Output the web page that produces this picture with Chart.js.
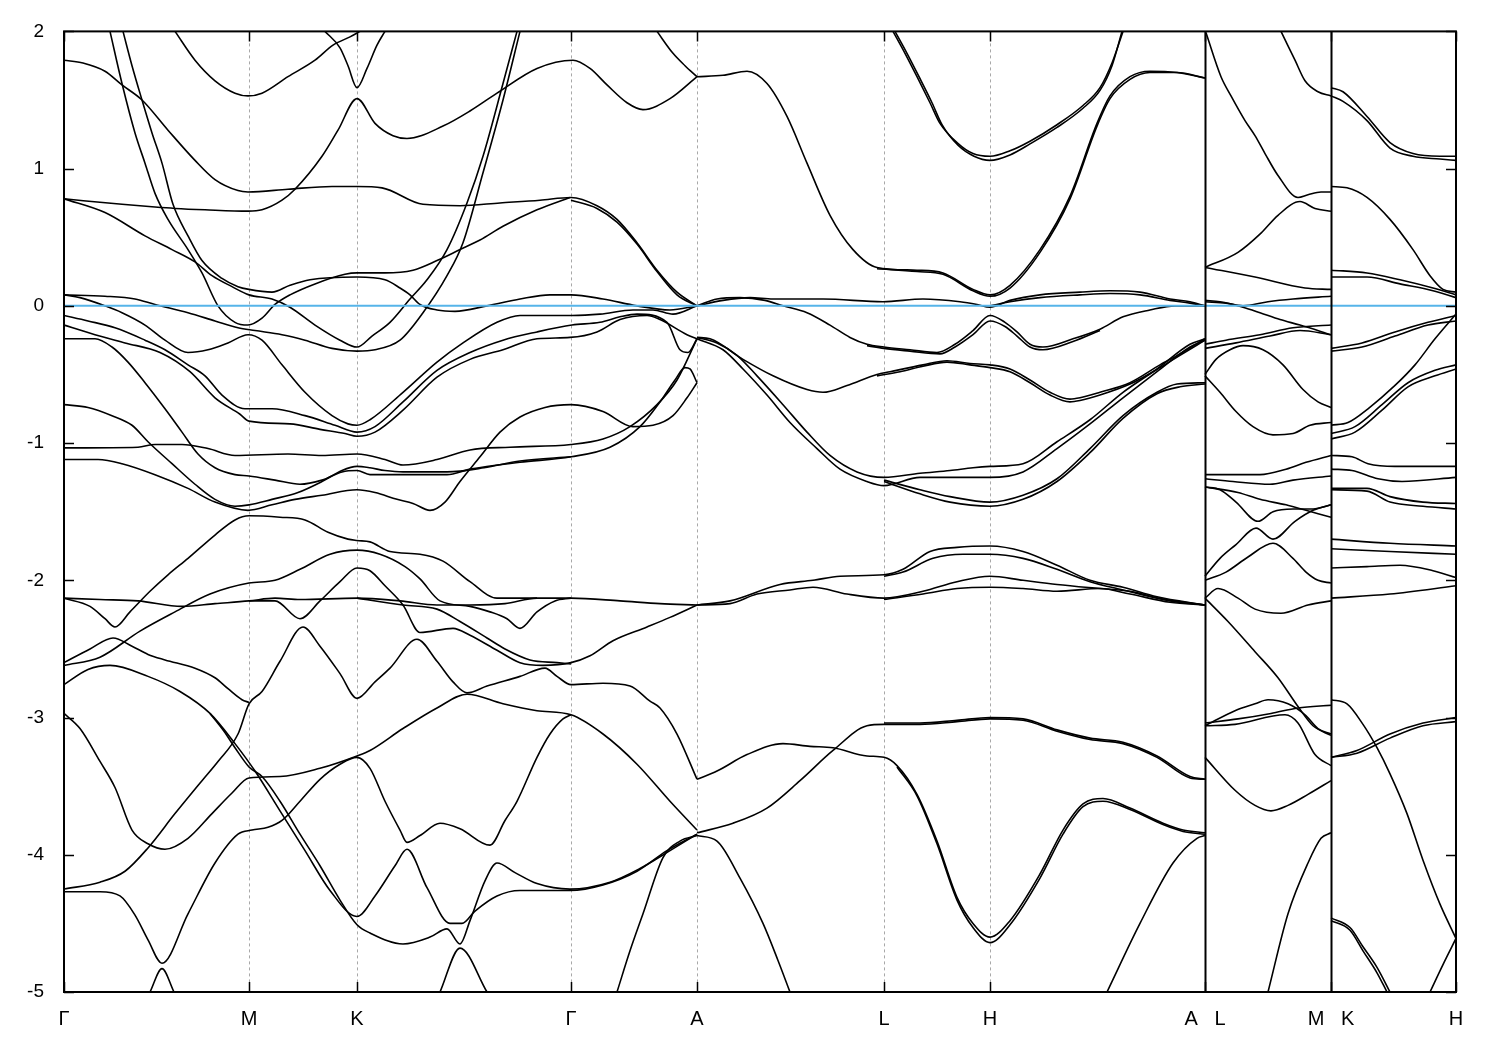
<!DOCTYPE html>
<html><head><meta charset="utf-8">
<script src="https://cdn.jsdelivr.net/npm/chart.js@4.4.1/dist/chart.umd.min.js"></script>
<style>html,body{margin:0;padding:0;background:#fff}canvas{display:block}</style>
</head><body>
<canvas id="c" width="1500" height="1050"></canvas>
<script>
// high-symmetry path positions (k, arb. units) and labels
const kPoints = [0, 185, 293, 507, 633, 820, 926, 1141, 1267, 1392];
const kLabels = ['Γ', 'M', 'K', 'Γ', 'A', 'L', 'H', 'A   L', 'M   K', 'H'];
const kBreaks = [1141, 1267];
const yTicks = [-5, -4, -3, -2, -1, 0, 1, 2];
const fermi = [[0, 0], [1392, 0]];

// bands: [k, E (eV)]
const b01=[[46,2.0],[58,1.62],[71,1.26],[81,1.04],[91,0.82],[104,0.63],[124,0.41],[138,0.24],[154,0.0],[171,-0.12],[184,-0.14],[198,-0.09],[211,0.01],[226,0.08],[251,0.16],[281,0.23],[293,0.24],[321,0.24],[349,0.26],[373,0.33],[396,0.41],[416,0.48],[439,0.58],[473,0.70],[506,0.79]];
const b02=[[59,2.0],[68,1.75],[78,1.50],[88,1.26],[98,1.04],[109,0.74],[124,0.51],[138,0.33],[158,0.20],[174,0.14],[185,0.12],[208,0.10],[226,0.15],[246,0.19],[293,0.21],[321,0.19],[336,0.13],[346,0.08],[356,0.01],[373,-0.03],[391,-0.04],[423,0.0],[456,0.05],[486,0.08],[507,0.08],[539,0.05],[573,0.0],[606,-0.03],[633,0.0]];
const b03=[[0,0.78],[41,0.68],[81,0.51],[108,0.41],[131,0.32],[148,0.22],[168,0.14],[185,0.08],[208,0.05],[226,-0.01],[251,-0.14],[276,-0.25],[293,-0.30],[308,-0.22],[326,-0.12],[346,0.05],[363,0.19],[383,0.41],[403,0.75],[419,1.09],[439,1.62],[453,2.0]];
const b04=[[0,0.78],[58,0.74],[91,0.72],[111,0.71],[141,0.70],[184,0.69],[198,0.70],[218,0.77],[231,0.85],[258,1.09],[274,1.28],[293,1.51],[311,1.33],[329,1.24],[343,1.22],[379,1.31],[406,1.42],[433,1.55],[473,1.73],[509,1.79],[526,1.73],[543,1.61],[563,1.48],[579,1.43],[606,1.51],[633,1.67]];
const b05=[[0,1.79],[19,1.77],[41,1.71],[58,1.61],[78,1.50],[104,1.28],[131,1.06],[151,0.92],[174,0.84],[184,0.83],[224,0.85],[268,0.87],[293,0.87],[318,0.86],[359,0.74],[396,0.73],[436,0.75],[476,0.77],[507,0.79],[533,0.73],[553,0.63],[573,0.46],[593,0.26],[613,0.10],[633,0.0]];
const b06=[[507,0.77],[533,0.71],[553,0.61],[573,0.45],[593,0.25],[613,0.08],[633,0.0]];
const b07=[[111,2.0],[131,1.79],[151,1.64],[171,1.55],[184,1.53],[198,1.55],[224,1.67],[251,1.79],[269,1.90],[286,1.96],[296,2.0]];
const b08=[[261,2.0],[276,1.88],[284,1.75],[293,1.59],[303,1.73],[313,1.90],[321,2.0]];
const b09=[[0,0.08],[41,0.07],[71,0.05],[91,0.01],[124,-0.05],[151,-0.11],[174,-0.16],[191,-0.18],[218,-0.21],[241,-0.25],[268,-0.31],[293,-0.33],[311,-0.32],[336,-0.25],[359,-0.05],[383,0.22],[399,0.46],[419,0.97],[439,1.50],[456,2.0]];
const b10=[[0,0.08],[16,0.06],[41,0.0],[58,-0.05],[81,-0.14],[101,-0.25],[124,-0.34],[144,-0.32],[164,-0.27],[184,-0.21],[198,-0.25],[218,-0.43],[241,-0.63],[268,-0.80],[284,-0.86],[293,-0.87],[306,-0.83],[339,-0.63],[373,-0.41],[399,-0.27],[433,-0.12],[456,-0.07],[489,-0.07],[508,-0.07],[536,-0.06],[569,-0.03],[589,-0.03],[609,-0.06],[633,0.0]];
const b11=[[0,-0.07],[24,-0.11],[51,-0.16],[81,-0.25],[101,-0.32],[124,-0.43],[141,-0.51],[158,-0.65],[181,-0.75],[208,-0.75],[241,-0.80],[271,-0.87],[293,-0.92],[311,-0.88],[339,-0.70],[373,-0.47],[406,-0.34],[439,-0.25],[473,-0.19],[508,-0.14],[536,-0.12],[556,-0.08],[573,-0.06],[603,-0.12],[616,-0.32],[624,-0.34],[633,-0.24]];
const b12=[[0,-0.14],[31,-0.21],[61,-0.27],[96,-0.34],[126,-0.48],[151,-0.67],[176,-0.79],[185,-0.84],[226,-0.86],[256,-0.90],[281,-0.93],[293,-0.95],[311,-0.92],[339,-0.76],[373,-0.52],[406,-0.39],[439,-0.32],[473,-0.24],[506,-0.23],[533,-0.19],[556,-0.10],[583,-0.07],[596,-0.10],[623,-0.21],[633,-0.24]];
const b13=[[0,-0.24],[31,-0.24],[48,-0.30],[64,-0.41],[81,-0.56],[101,-0.75],[118,-0.92],[134,-1.08],[151,-1.18],[171,-1.23],[185,-1.24],[211,-1.27],[236,-1.30],[258,-1.27],[278,-1.21],[293,-1.20],[306,-1.23],[339,-1.23],[383,-1.23],[406,-1.19],[456,-1.14],[507,-1.10],[546,-1.03],[576,-0.88],[596,-0.70],[611,-0.54],[621,-0.45],[626,-0.46],[633,-0.56]];
const b14=[[0,-1.035],[74,-1.03],[91,-1.01],[118,-1.01],[144,-1.04],[171,-1.09],[224,-1.08],[258,-1.09],[293,-1.08],[321,-1.12],[339,-1.16],[373,-1.12],[406,-1.05],[446,-1.03],[507,-1.01],[539,-0.97],[566,-0.88],[593,-0.72],[613,-0.54],[633,-0.24]];
const b15=[[0,-1.12],[34,-1.12],[58,-1.15],[91,-1.23],[124,-1.33],[151,-1.43],[184,-1.49],[208,-1.45],[231,-1.41],[258,-1.38],[293,-1.34],[311,-1.36],[333,-1.41],[349,-1.44],[366,-1.49],[381,-1.43],[396,-1.28],[416,-1.10],[436,-0.92],[456,-0.81],[481,-0.74],[507,-0.72],[539,-0.77],[569,-0.88],[589,-0.87],[609,-0.80],[623,-0.67],[633,-0.56]];
const b16=[[0,-0.72],[24,-0.74],[48,-0.80],[68,-0.87],[84,-0.99],[108,-1.15],[131,-1.30],[151,-1.41],[171,-1.46],[185,-1.45],[208,-1.41],[234,-1.36],[258,-1.28],[278,-1.20],[293,-1.17],[306,-1.18],[321,-1.20],[339,-1.21],[383,-1.21],[420,-1.18],[456,-1.13],[507,-1.10]];
const b17=[[0,-2.13],[36,-2.14],[74,-2.15],[118,-2.19],[151,-2.17],[185,-2.15],[211,-2.13],[236,-2.14],[293,-2.13],[336,-2.15],[373,-2.18],[406,-2.18],[441,-2.17],[473,-2.13],[507,-2.13],[556,-2.15],[596,-2.17],[633,-2.18]];
const b18=[[0,-2.13],[26,-2.19],[41,-2.28],[51,-2.34],[66,-2.23],[86,-2.08],[104,-1.96],[124,-1.84],[151,-1.67],[171,-1.56],[185,-1.53],[216,-1.54],[241,-1.56],[264,-1.65],[284,-1.70],[293,-1.71],[306,-1.72],[326,-1.79],[356,-1.81],[379,-1.86],[406,-2.01],[433,-2.13],[473,-2.13]];
const b19=[[0,-2.62],[36,-2.56],[76,-2.37],[111,-2.23],[146,-2.10],[185,-2.02],[211,-2.00],[236,-1.92],[266,-1.81],[293,-1.78],[316,-1.81],[341,-1.90],[356,-1.99],[376,-2.15],[406,-2.19],[426,-2.23],[443,-2.28],[456,-2.35],[473,-2.23],[491,-2.15],[507,-2.13]];
const b20=[[0,-2.76],[24,-2.65],[46,-2.62],[84,-2.70],[116,-2.81],[146,-2.97],[171,-3.19],[191,-3.39],[216,-3.68],[241,-3.97],[266,-4.26],[293,-4.45],[311,-4.30],[331,-4.08],[343,-3.96],[363,-4.24],[386,-4.50],[398,-4.50],[411,-4.41],[433,-4.30],[456,-4.26],[506,-4.26],[539,-4.22],[573,-4.12],[603,-3.97],[633,-3.85]];
const b21=[[0,-2.97],[16,-3.08],[36,-3.32],[51,-3.51],[68,-3.82],[84,-3.92],[101,-3.96],[124,-3.88],[148,-3.70],[168,-3.55],[185,-3.44],[216,-3.43],[256,-3.37],[293,-3.28],[306,-3.24],[339,-3.08],[373,-2.93],[403,-2.83],[439,-2.90],[473,-2.95],[507,-2.98],[539,-3.12],[573,-3.34],[606,-3.61],[633,-3.82]];
const b22=[[0,-4.25],[36,-4.20],[61,-4.12],[84,-3.95],[111,-3.70],[138,-3.46],[154,-3.32],[174,-3.12],[185,-2.90],[198,-2.81],[216,-2.59],[239,-2.34],[256,-2.48],[276,-2.68],[293,-2.86],[311,-2.74],[326,-2.64],[353,-2.43],[373,-2.59],[389,-2.74],[403,-2.82],[423,-2.77],[456,-2.70],[481,-2.64],[493,-2.70],[507,-2.76],[539,-2.75],[566,-2.77],[586,-2.88],[596,-2.93],[613,-3.12],[633,-3.45]];
const b23=[[0,-2.60],[26,-2.50],[49,-2.42],[68,-2.48],[84,-2.54],[101,-2.58],[131,-2.64],[151,-2.71],[164,-2.79],[178,-2.87],[185,-2.89]];
const b25=[[146,-2.97],[160,-3.10],[171,-3.22],[185,-3.36],[198,-3.43],[216,-3.61],[236,-3.85],[256,-4.08],[276,-4.33],[293,-4.51],[306,-4.57],[339,-4.65],[366,-4.60],[383,-4.54],[396,-4.65],[406,-4.48],[421,-4.19],[433,-4.06],[451,-4.13],[473,-4.21],[506,-4.25],[546,-4.20],[576,-4.10],[606,-3.97],[633,-3.85]];
const b26=[[0,-4.27],[36,-4.27],[56,-4.30],[71,-4.44],[84,-4.62],[98,-4.79],[124,-4.43],[151,-4.06],[174,-3.85],[188,-3.82],[204,-3.80],[218,-3.75],[236,-3.61],[256,-3.45],[276,-3.34],[293,-3.29],[306,-3.37],[321,-3.61],[336,-3.82],[343,-3.91],[356,-3.86],[376,-3.77],[396,-3.81],[426,-3.93],[441,-3.75],[453,-3.61],[473,-3.29],[486,-3.12],[499,-3.01],[507,-2.98]];
const b27=[[86,-5.0],[98,-4.83],[110,-5.0]];
const b28=[[376,-5.0],[396,-4.68],[423,-5.0]];
const b29=[[633,1.67],[659,1.68],[683,1.71],[703,1.62],[723,1.38],[743,1.04],[766,0.66],[789,0.41],[813,0.28],[853,0.26],[879,0.24],[909,0.12],[926,0.08],[946,0.15],[976,0.41],[1006,0.80],[1033,1.33],[1046,1.53],[1066,1.67],[1086,1.71],[1113,1.70],[1141,1.66]];
const b29b=[[813,0.27],[853,0.25],[879,0.23],[909,0.11],[926,0.07],[946,0.13],[976,0.39],[1006,0.78],[1033,1.31],[1046,1.51],[1066,1.65],[1086,1.70],[1113,1.70],[1141,1.66]];
const b30=[[829,2.0],[841,1.84],[853,1.67],[866,1.48],[876,1.33],[893,1.19],[909,1.11],[926,1.09],[946,1.13],[966,1.20],[993,1.32],[1019,1.46],[1036,1.59],[1048,1.77],[1059,2.0]];
const b31=[[831,2.0],[843,1.84],[855,1.67],[868,1.48],[878,1.32],[894,1.17],[910,1.09],[926,1.06],[946,1.10],[966,1.18],[993,1.30],[1019,1.44],[1036,1.57],[1048,1.75],[1058,2.0]];
const b32=[[633,0.0],[659,0.04],[686,0.06],[709,0.05],[759,0.05],[819,0.03],[859,0.05],[896,0.03],[913,0.01],[926,-0.01],[946,0.04],[976,0.08],[1016,0.10],[1046,0.11],[1076,0.10],[1106,0.05],[1126,0.03],[1141,0.0]];
const b32b=[[926,0.0],[946,0.03],[976,0.06],[1016,0.08],[1046,0.09],[1076,0.08],[1106,0.04],[1126,0.02],[1141,0.0]];
const b33=[[633,0.0],[653,0.05],[676,0.06],[701,0.04],[719,0.0],[743,-0.05],[766,-0.14],[786,-0.23],[803,-0.28],[820,-0.30],[846,-0.32],[873,-0.34],[891,-0.28],[909,-0.18],[926,-0.07],[941,-0.12],[953,-0.19],[966,-0.28],[979,-0.30],[1009,-0.24],[1036,-0.17],[1059,-0.08],[1086,-0.03],[1111,0.0],[1141,0.0]];
const b34=[[803,-0.29],[820,-0.31],[846,-0.33],[876,-0.35],[891,-0.30],[909,-0.21],[926,-0.11],[941,-0.15],[953,-0.22],[966,-0.30],[979,-0.32],[1009,-0.26],[1036,-0.18]];
const b35=[[633,-0.23],[646,-0.24],[679,-0.39],[709,-0.51],[743,-0.61],[759,-0.63],[783,-0.58],[813,-0.50],[826,-0.48],[859,-0.43],[883,-0.40],[906,-0.42],[926,-0.43],[946,-0.46],[966,-0.54],[986,-0.63],[1006,-0.68],[1016,-0.67],[1036,-0.63],[1066,-0.56],[1096,-0.43],[1116,-0.35],[1141,-0.24]];
const b35b=[[813,-0.51],[836,-0.48],[859,-0.44],[883,-0.41],[906,-0.43],[926,-0.45],[946,-0.48],[966,-0.56],[986,-0.65],[1006,-0.70],[1016,-0.69],[1036,-0.65],[1066,-0.57],[1096,-0.45],[1116,-0.36],[1141,-0.25]];
const b36=[[633,-0.23],[653,-0.27],[673,-0.36],[693,-0.51],[719,-0.72],[743,-0.92],[766,-1.09],[793,-1.21],[820,-1.25],[856,-1.22],[886,-1.20],[909,-1.18],[926,-1.17],[959,-1.15],[993,-0.99],[1026,-0.83],[1059,-0.63],[1093,-0.46],[1126,-0.28],[1141,-0.24]];
const b37=[[633,-0.24],[659,-0.32],[679,-0.46],[703,-0.65],[726,-0.85],[753,-1.04],[776,-1.19],[803,-1.28],[820,-1.31],[856,-1.25],[886,-1.25],[926,-1.25],[959,-1.21],[993,-1.04],[1026,-0.86],[1059,-0.67],[1093,-0.48],[1126,-0.30],[1141,-0.25]];
const b38=[[820,-1.27],[856,-1.34],[886,-1.39],[926,-1.43],[959,-1.38],[993,-1.26],[1026,-1.04],[1059,-0.80],[1093,-0.63],[1113,-0.57],[1141,-0.56]];
const b39=[[820,-1.28],[856,-1.37],[886,-1.43],[926,-1.46],[959,-1.41],[993,-1.28],[1026,-1.07],[1059,-0.82],[1093,-0.64],[1116,-0.59],[1141,-0.57]];
const b40=[[633,-2.18],[666,-2.15],[716,-2.03],[749,-2.00],[776,-1.97],[820,-1.96],[839,-1.92],[866,-1.79],[893,-1.76],[926,-1.75],[959,-1.79],[993,-1.89],[1026,-2.00],[1059,-2.05],[1093,-2.12],[1141,-2.18]];
const b41=[[820,-1.97],[839,-1.94],[869,-1.84],[899,-1.81],[926,-1.81],[959,-1.84],[993,-1.92],[1026,-2.01],[1059,-2.07],[1093,-2.13],[1141,-2.18]];
const b42=[[633,-2.18],[666,-2.17],[693,-2.10],[726,-2.07],[749,-2.05],[783,-2.10],[820,-2.13],[859,-2.08],[893,-2.01],[926,-1.97],[959,-2.00],[993,-2.03],[1036,-2.06],[1066,-2.08],[1106,-2.15],[1141,-2.18]];
const b43=[[820,-2.14],[859,-2.10],[893,-2.06],[926,-2.05],[959,-2.06],[993,-2.08],[1036,-2.06],[1066,-2.10],[1106,-2.16],[1141,-2.18]];
const b44=[[633,-3.45],[653,-3.39],[683,-3.27],[719,-3.19],[746,-3.21],[769,-3.22],[803,-3.28],[820,-3.29],[833,-3.35],[853,-3.56],[873,-3.90],[893,-4.31],[909,-4.50],[926,-4.60],[946,-4.48],[976,-4.14],[999,-3.82],[1019,-3.63],[1039,-3.59],[1066,-3.66],[1099,-3.77],[1119,-3.82],[1141,-3.84]];
const b45=[[833,-3.36],[853,-3.57],[873,-3.92],[893,-4.33],[909,-4.53],[926,-4.64],[946,-4.51],[976,-4.17],[999,-3.85],[1019,-3.65],[1039,-3.61],[1066,-3.67],[1099,-3.78],[1119,-3.83],[1141,-3.85]];
const b46=[[633,-3.84],[669,-3.77],[703,-3.66],[736,-3.46],[769,-3.24],[803,-3.06],[820,-3.05],[856,-3.05],[893,-3.03],[926,-3.01],[959,-3.02],[993,-3.10],[1026,-3.16],[1059,-3.19],[1093,-3.29],[1126,-3.44],[1141,-3.45]];
const b46b=[[820,-3.04],[856,-3.04],[893,-3.02],[926,-3.00],[959,-3.01],[993,-3.09],[1026,-3.15],[1059,-3.18],[1093,-3.28],[1126,-3.43],[1141,-3.45]];
const b47=[[633,-3.86],[653,-3.90],[676,-4.17],[699,-4.50],[714,-4.77],[726,-5.0]];
const b48=[[1043,-5.0],[1076,-4.50],[1109,-4.06],[1133,-3.88],[1141,-3.86]];
const b49=[[553,-5.0],[566,-4.70],[579,-4.43],[599,-4.02],[616,-3.90],[633,-3.86]];
const b50=[[593,2.0],[609,1.84],[621,1.75],[633,1.67]];
const b51=[[1142,1.99],[1157,1.67],[1167,1.53],[1181,1.35],[1191,1.24],[1201,1.11],[1214,0.95],[1234,0.79],[1244,0.81],[1257,0.83],[1267,0.83]];
const b52=[[1141,0.28],[1174,0.39],[1197,0.53],[1214,0.66],[1236,0.76],[1251,0.71],[1267,0.69]];
const b53=[[1141,0.28],[1191,0.21],[1241,0.13],[1267,0.12]];
const b54=[[1217,2.0],[1231,1.79],[1241,1.64],[1254,1.56],[1267,1.53]];
const b55=[[1141,0.03],[1162,0.02],[1179,0.0],[1204,0.03],[1229,0.05],[1267,0.07]];
const b56=[[1141,0.04],[1156,0.03],[1179,-0.01],[1196,-0.05],[1216,-0.10],[1236,-0.14],[1267,-0.21]];
const b57=[[1141,-0.28],[1162,-0.25],[1196,-0.21],[1229,-0.16],[1267,-0.14]];
const b58=[[1141,-0.31],[1172,-0.27],[1206,-0.22],[1236,-0.18],[1267,-0.21]];
const b59=[[1141,-0.50],[1152,-0.39],[1166,-0.32],[1179,-0.29],[1199,-0.32],[1219,-0.43],[1239,-0.61],[1254,-0.70],[1267,-0.74]];
const b60=[[1141,-0.51],[1156,-0.63],[1172,-0.77],[1189,-0.88],[1209,-0.94],[1229,-0.93],[1246,-0.87],[1267,-0.85]];
const b61=[[1141,-1.23],[1162,-1.23],[1196,-1.23],[1222,-1.19],[1242,-1.14],[1267,-1.09]];
const b62=[[1141,-1.26],[1169,-1.28],[1206,-1.30],[1229,-1.27],[1267,-1.24]];
const b63=[[1141,-1.32],[1156,-1.34],[1172,-1.43],[1194,-1.57],[1209,-1.50],[1229,-1.48],[1249,-1.48],[1267,-1.45]];
const b64=[[1141,-1.32],[1174,-1.36],[1196,-1.41],[1222,-1.45],[1242,-1.49],[1267,-1.54]];
const b65=[[1141,-1.97],[1156,-1.84],[1172,-1.74],[1192,-1.62],[1209,-1.70],[1231,-1.57],[1249,-1.49],[1267,-1.45]];
const b66=[[1141,-2.00],[1162,-1.94],[1184,-1.83],[1209,-1.73],[1229,-1.84],[1242,-1.94],[1254,-2.00],[1267,-2.02]];
const b67=[[1141,-2.13],[1154,-2.06],[1174,-2.13],[1191,-2.21],[1217,-2.24],[1244,-2.18],[1267,-2.15]];
const b68=[[1141,-2.13],[1164,-2.30],[1191,-2.52],[1214,-2.71],[1234,-2.92],[1249,-3.06],[1267,-3.13]];
const b69=[[1141,-3.04],[1174,-3.01],[1207,-2.97],[1234,-2.93],[1267,-2.91]];
const b70=[[1141,-3.06],[1171,-2.95],[1191,-2.90],[1204,-2.87],[1224,-2.90],[1241,-2.98],[1254,-3.08],[1267,-3.12]];
const b71=[[1141,-3.06],[1171,-3.05],[1221,-2.98],[1234,-3.04],[1251,-3.27],[1267,-3.35]];
const b72=[[1141,-3.29],[1171,-3.53],[1191,-3.64],[1207,-3.68],[1224,-3.64],[1244,-3.56],[1267,-3.46]];
const b73=[[1204,-5.0],[1224,-4.43],[1244,-4.06],[1257,-3.88],[1267,-3.84]];
const b74=[[1267,1.59],[1279,1.56],[1303,1.38],[1326,1.19],[1349,1.11],[1376,1.09],[1392,1.09]];
const b75=[[1267,1.53],[1279,1.49],[1303,1.35],[1326,1.15],[1349,1.09],[1376,1.07],[1392,1.06]];
const b76=[[1267,0.87],[1283,0.86],[1303,0.79],[1326,0.63],[1349,0.41],[1366,0.22],[1379,0.12],[1392,0.10]];
const b77=[[1267,0.26],[1303,0.24],[1336,0.19],[1369,0.13],[1392,0.08]];
const b78=[[1267,0.21],[1303,0.21],[1336,0.16],[1369,0.11],[1392,0.06]];
const b79=[[1267,-0.31],[1298,-0.27],[1331,-0.19],[1364,-0.12],[1392,-0.07]];
const b80=[[1267,-0.33],[1298,-0.30],[1331,-0.22],[1364,-0.14],[1392,-0.11]];
const b81=[[1267,-0.87],[1284,-0.85],[1304,-0.75],[1331,-0.58],[1351,-0.43],[1371,-0.24],[1392,-0.06]];
const b82=[[1267,-0.93],[1291,-0.88],[1318,-0.72],[1344,-0.56],[1371,-0.47],[1392,-0.43]];
const b83=[[1267,-0.97],[1291,-0.92],[1318,-0.76],[1344,-0.59],[1371,-0.51],[1392,-0.46]];
const b84=[[1267,-1.09],[1288,-1.10],[1304,-1.15],[1331,-1.17],[1392,-1.17]];
const b85=[[1267,-1.19],[1288,-1.20],[1314,-1.26],[1338,-1.28],[1392,-1.25]];
const b86=[[1267,-1.33],[1303,-1.33],[1326,-1.39],[1359,-1.43],[1392,-1.44]];
const b87=[[1267,-1.34],[1303,-1.35],[1326,-1.43],[1359,-1.46],[1392,-1.48]];
const b88=[[1267,-1.70],[1326,-1.73],[1392,-1.75]];
const b89=[[1267,-1.77],[1326,-1.79],[1392,-1.81]];
const b90=[[1267,-1.91],[1303,-1.90],[1336,-1.89],[1369,-1.93],[1392,-1.98]];
const b91=[[1267,-2.13],[1326,-2.10],[1392,-2.04]];
const b92=[[1267,-2.87],[1283,-2.90],[1299,-3.05],[1313,-3.22],[1326,-3.41],[1343,-3.70],[1359,-4.04],[1376,-4.36],[1392,-4.61]];
const b93=[[1267,-3.29],[1293,-3.24],[1326,-3.12],[1359,-3.04],[1392,-3.00]];
const b94=[[1267,-3.29],[1293,-3.26],[1326,-3.15],[1359,-3.06],[1392,-3.03]];
const b95=[[1267,-4.46],[1286,-4.53],[1299,-4.67],[1313,-4.82],[1326,-5.0]];
const b96=[[1267,-4.48],[1286,-4.55],[1299,-4.70],[1313,-4.86],[1323,-5.0]];
const b97=[[1366,-5.0],[1379,-4.80],[1392,-4.61]];
const b98=[[185,-2.15],[211,-2.15],[236,-2.28],[256,-2.15],[276,-2.01],[293,-1.91],[306,-1.93],[321,-2.04],[339,-2.18],[356,-2.38],[389,-2.35],[406,-2.40],[433,-2.51],[456,-2.60],[479,-2.62],[507,-2.60],[526,-2.55],[549,-2.44],[583,-2.34],[606,-2.27],[633,-2.18]];
const b99=[[293,-2.13],[339,-2.18],[373,-2.21],[396,-2.30],[423,-2.42],[441,-2.50],[466,-2.58],[493,-2.60],[507,-2.61]];

const bands=[b01,b02,b03,b04,b05,b06,b07,b08,b09,b10,b11,b12,b13,b14,b15,b16,b17,b18,b19,b20,b21,b22,b23,b25,b26,b27,b28,b29,b29b,b30,b31,b32,b32b,b33,b34,b35,b35b,b36,b37,b38,b39,b40,b41,b42,b43,b44,b45,b46,b46b,b47,b48,b49,b50,b51,b52,b53,b54,b55,b56,b57,b58,b59,b60,b61,b62,b63,b64,b65,b66,b67,b68,b69,b70,b71,b72,b73,b74,b75,b76,b77,b78,b79,b80,b81,b82,b83,b84,b85,b86,b87,b88,b89,b90,b91,b92,b93,b94,b95,b96,b97,b98,b99];

const datasets = [{
  data: fermi.map(p => ({x: p[0], y: p[1]})),
  borderColor: '#56b4e9', borderWidth: 2, pointRadius: 0, order: 0, tension: 0
}];
bands.forEach(b => datasets.push({
  data: b.map(p => ({x: p[0], y: p[1]})),
  borderColor: '#000', borderWidth: 1.6, pointRadius: 0, order: 1,
  cubicInterpolationMode: 'monotone'
}));

const frame = {
  id: 'frame',
  afterDatasetsDraw(chart) {
    const {ctx, chartArea: a, scales: {x, y}} = chart;
    ctx.save();
    ctx.strokeStyle = '#000';
    ctx.lineWidth = 2;
    kBreaks.forEach(k => {
      const px = Math.round(x.getPixelForValue(k)) + 0.5;
      ctx.beginPath(); ctx.moveTo(px, a.top); ctx.lineTo(px, a.bottom); ctx.stroke();
    });
    ctx.lineWidth = 2;
    ctx.strokeRect(a.left, a.top, a.right - a.left, a.bottom - a.top);
    ctx.lineWidth = 1.5;
    yTicks.forEach(v => {
      const py = Math.round(y.getPixelForValue(v)) + 0.5;
      ctx.beginPath(); ctx.moveTo(a.left, py); ctx.lineTo(a.left + 10, py);
      ctx.moveTo(a.right, py); ctx.lineTo(a.right - 10, py); ctx.stroke();
    });
    kPoints.forEach(k => {
      const px = Math.round(x.getPixelForValue(k)) + 0.5;
      ctx.beginPath(); ctx.moveTo(px, a.top); ctx.lineTo(px, a.top + 10);
      ctx.moveTo(px, a.bottom); ctx.lineTo(px, a.bottom - 10); ctx.stroke();
    });
    ctx.restore();
  }
};

new Chart(document.getElementById('c'), {
  type: 'line',
  data: {datasets},
  options: {
    responsive: false, animation: false, devicePixelRatio: 1,
    layout: {padding: {top: 28, right: 44, left: 0, bottom: 0}},
    plugins: {legend: {display: false}, tooltip: {enabled: false}},
    scales: {
      x: {
        type: 'linear', min: 0, max: 1392,
        afterBuildTicks: s => { s.ticks = kPoints.map(v => ({value: v})); },
        afterFit: s => { s.height = 58; },
        ticks: {
          autoSkip: false, maxRotation: 0, padding: 15, color: '#000',
          font: {family: 'Liberation Sans', size: 20},
          callback: v => { const i = kPoints.indexOf(v); return i >= 0 ? kLabels[i] : ''; }
        },
        grid: {
          drawTicks: false, lineWidth: 1,
          color: c => (c.tick && (c.tick.value === 0 || c.tick.value === 1392)) ? 'rgba(0,0,0,0)' : '#a8a8a8'
        },
        border: {display: false, dash: [3, 3]}
      },
      y: {
        min: -5, max: 2,
        afterBuildTicks: s => { s.ticks = yTicks.map(v => ({value: v})); },
        afterFit: s => { s.width = 64; },
        ticks: {padding: 20, color: '#000', font: {family: 'Liberation Sans', size: 19}},
        grid: {display: false, drawTicks: false},
        border: {display: false}
      }
    }
  },
  plugins: [frame]
});
</script>
</body></html>
